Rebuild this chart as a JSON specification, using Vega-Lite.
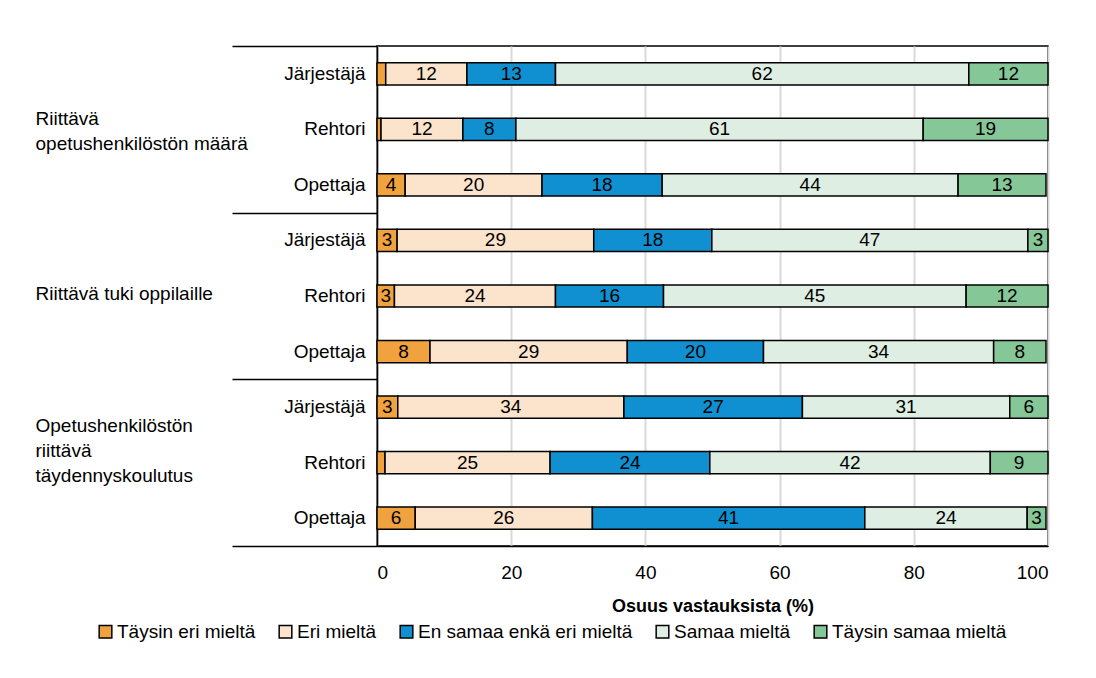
{
  "$schema": "https://vega.github.io/schema/vega-lite/v6.json",
  "width": 671,
  "height": 500,
  "padding": {"left": 35, "top": 37, "right": 30, "bottom": 10},
  "background": "white",
  "config": {
    "font": "Liberation Sans",
    "view": {"stroke": "black", "strokeWidth": 1.5},
    "axis": {"labelColor": "black", "labelFont": "Liberation Sans", "labelFontSize": 19, "titleColor": "black", "titleFont": "Liberation Sans"},
    "legend": {"labelFont": "Liberation Sans"}
  },
  "data": {
    "values": [
      {"ryhma": "Riittävä opetushenkilöstön määrä", "rivi": "Riittävä opetushenkilöstön määrä|Järjestäjä", "vastaus": "Täysin eri mieltä", "k": 1, "v": 1.3},
      {"ryhma": "Riittävä opetushenkilöstön määrä", "rivi": "Riittävä opetushenkilöstön määrä|Järjestäjä", "vastaus": "Eri mieltä", "k": 2, "v": 12.1},
      {"ryhma": "Riittävä opetushenkilöstön määrä", "rivi": "Riittävä opetushenkilöstön määrä|Järjestäjä", "vastaus": "En samaa enkä eri mieltä", "k": 3, "v": 13.2},
      {"ryhma": "Riittävä opetushenkilöstön määrä", "rivi": "Riittävä opetushenkilöstön määrä|Järjestäjä", "vastaus": "Samaa mieltä", "k": 4, "v": 61.6},
      {"ryhma": "Riittävä opetushenkilöstön määrä", "rivi": "Riittävä opetushenkilöstön määrä|Järjestäjä", "vastaus": "Täysin samaa mieltä", "k": 5, "v": 11.8},
      {"ryhma": "Riittävä opetushenkilöstön määrä", "rivi": "Riittävä opetushenkilöstön määrä|Rehtori", "vastaus": "Täysin eri mieltä", "k": 1, "v": 0.6},
      {"ryhma": "Riittävä opetushenkilöstön määrä", "rivi": "Riittävä opetushenkilöstön määrä|Rehtori", "vastaus": "Eri mieltä", "k": 2, "v": 12.2},
      {"ryhma": "Riittävä opetushenkilöstön määrä", "rivi": "Riittävä opetushenkilöstön määrä|Rehtori", "vastaus": "En samaa enkä eri mieltä", "k": 3, "v": 7.9},
      {"ryhma": "Riittävä opetushenkilöstön määrä", "rivi": "Riittävä opetushenkilöstön määrä|Rehtori", "vastaus": "Samaa mieltä", "k": 4, "v": 60.7},
      {"ryhma": "Riittävä opetushenkilöstön määrä", "rivi": "Riittävä opetushenkilöstön määrä|Rehtori", "vastaus": "Täysin samaa mieltä", "k": 5, "v": 18.6},
      {"ryhma": "Riittävä opetushenkilöstön määrä", "rivi": "Riittävä opetushenkilöstön määrä|Opettaja", "vastaus": "Täysin eri mieltä", "k": 1, "v": 4.2},
      {"ryhma": "Riittävä opetushenkilöstön määrä", "rivi": "Riittävä opetushenkilöstön määrä|Opettaja", "vastaus": "Eri mieltä", "k": 2, "v": 20.4},
      {"ryhma": "Riittävä opetushenkilöstön määrä", "rivi": "Riittävä opetushenkilöstön määrä|Opettaja", "vastaus": "En samaa enkä eri mieltä", "k": 3, "v": 17.9},
      {"ryhma": "Riittävä opetushenkilöstön määrä", "rivi": "Riittävä opetushenkilöstön määrä|Opettaja", "vastaus": "Samaa mieltä", "k": 4, "v": 44.1},
      {"ryhma": "Riittävä opetushenkilöstön määrä", "rivi": "Riittävä opetushenkilöstön määrä|Opettaja", "vastaus": "Täysin samaa mieltä", "k": 5, "v": 13.1},
      {"ryhma": "Riittävä tuki oppilaille", "rivi": "Riittävä tuki oppilaille|Järjestäjä", "vastaus": "Täysin eri mieltä", "k": 1, "v": 3.0},
      {"ryhma": "Riittävä tuki oppilaille", "rivi": "Riittävä tuki oppilaille|Järjestäjä", "vastaus": "Eri mieltä", "k": 2, "v": 29.3},
      {"ryhma": "Riittävä tuki oppilaille", "rivi": "Riittävä tuki oppilaille|Järjestäjä", "vastaus": "En samaa enkä eri mieltä", "k": 3, "v": 17.6},
      {"ryhma": "Riittävä tuki oppilaille", "rivi": "Riittävä tuki oppilaille|Järjestäjä", "vastaus": "Samaa mieltä", "k": 4, "v": 47.1},
      {"ryhma": "Riittävä tuki oppilaille", "rivi": "Riittävä tuki oppilaille|Järjestäjä", "vastaus": "Täysin samaa mieltä", "k": 5, "v": 3.0},
      {"ryhma": "Riittävä tuki oppilaille", "rivi": "Riittävä tuki oppilaille|Rehtori", "vastaus": "Täysin eri mieltä", "k": 1, "v": 2.6},
      {"ryhma": "Riittävä tuki oppilaille", "rivi": "Riittävä tuki oppilaille|Rehtori", "vastaus": "Eri mieltä", "k": 2, "v": 24.0},
      {"ryhma": "Riittävä tuki oppilaille", "rivi": "Riittävä tuki oppilaille|Rehtori", "vastaus": "En samaa enkä eri mieltä", "k": 3, "v": 16.1},
      {"ryhma": "Riittävä tuki oppilaille", "rivi": "Riittävä tuki oppilaille|Rehtori", "vastaus": "Samaa mieltä", "k": 4, "v": 45.1},
      {"ryhma": "Riittävä tuki oppilaille", "rivi": "Riittävä tuki oppilaille|Rehtori", "vastaus": "Täysin samaa mieltä", "k": 5, "v": 12.2},
      {"ryhma": "Riittävä tuki oppilaille", "rivi": "Riittävä tuki oppilaille|Opettaja", "vastaus": "Täysin eri mieltä", "k": 1, "v": 7.9},
      {"ryhma": "Riittävä tuki oppilaille", "rivi": "Riittävä tuki oppilaille|Opettaja", "vastaus": "Eri mieltä", "k": 2, "v": 29.4},
      {"ryhma": "Riittävä tuki oppilaille", "rivi": "Riittävä tuki oppilaille|Opettaja", "vastaus": "En samaa enkä eri mieltä", "k": 3, "v": 20.3},
      {"ryhma": "Riittävä tuki oppilaille", "rivi": "Riittävä tuki oppilaille|Opettaja", "vastaus": "Samaa mieltä", "k": 4, "v": 34.3},
      {"ryhma": "Riittävä tuki oppilaille", "rivi": "Riittävä tuki oppilaille|Opettaja", "vastaus": "Täysin samaa mieltä", "k": 5, "v": 7.8},
      {"ryhma": "Opetushenkilöstön riittävä täydennyskoulutus", "rivi": "Opetushenkilöstön riittävä täydennyskoulutus|Järjestäjä", "vastaus": "Täysin eri mieltä", "k": 1, "v": 3.1},
      {"ryhma": "Opetushenkilöstön riittävä täydennyskoulutus", "rivi": "Opetushenkilöstön riittävä täydennyskoulutus|Järjestäjä", "vastaus": "Eri mieltä", "k": 2, "v": 33.7},
      {"ryhma": "Opetushenkilöstön riittävä täydennyskoulutus", "rivi": "Opetushenkilöstön riittävä täydennyskoulutus|Järjestäjä", "vastaus": "En samaa enkä eri mieltä", "k": 3, "v": 26.6},
      {"ryhma": "Opetushenkilöstön riittävä täydennyskoulutus", "rivi": "Opetushenkilöstön riittävä täydennyskoulutus|Järjestäjä", "vastaus": "Samaa mieltä", "k": 4, "v": 30.9},
      {"ryhma": "Opetushenkilöstön riittävä täydennyskoulutus", "rivi": "Opetushenkilöstön riittävä täydennyskoulutus|Järjestäjä", "vastaus": "Täysin samaa mieltä", "k": 5, "v": 5.7},
      {"ryhma": "Opetushenkilöstön riittävä täydennyskoulutus", "rivi": "Opetushenkilöstön riittävä täydennyskoulutus|Rehtori", "vastaus": "Täysin eri mieltä", "k": 1, "v": 1.2},
      {"ryhma": "Opetushenkilöstön riittävä täydennyskoulutus", "rivi": "Opetushenkilöstön riittävä täydennyskoulutus|Rehtori", "vastaus": "Eri mieltä", "k": 2, "v": 24.6},
      {"ryhma": "Opetushenkilöstön riittävä täydennyskoulutus", "rivi": "Opetushenkilöstön riittävä täydennyskoulutus|Rehtori", "vastaus": "En samaa enkä eri mieltä", "k": 3, "v": 23.8},
      {"ryhma": "Opetushenkilöstön riittävä täydennyskoulutus", "rivi": "Opetushenkilöstön riittävä täydennyskoulutus|Rehtori", "vastaus": "Samaa mieltä", "k": 4, "v": 41.8},
      {"ryhma": "Opetushenkilöstön riittävä täydennyskoulutus", "rivi": "Opetushenkilöstön riittävä täydennyskoulutus|Rehtori", "vastaus": "Täysin samaa mieltä", "k": 5, "v": 8.6},
      {"ryhma": "Opetushenkilöstön riittävä täydennyskoulutus", "rivi": "Opetushenkilöstön riittävä täydennyskoulutus|Opettaja", "vastaus": "Täysin eri mieltä", "k": 1, "v": 5.7},
      {"ryhma": "Opetushenkilöstön riittävä täydennyskoulutus", "rivi": "Opetushenkilöstön riittävä täydennyskoulutus|Opettaja", "vastaus": "Eri mieltä", "k": 2, "v": 26.4},
      {"ryhma": "Opetushenkilöstön riittävä täydennyskoulutus", "rivi": "Opetushenkilöstön riittävä täydennyskoulutus|Opettaja", "vastaus": "En samaa enkä eri mieltä", "k": 3, "v": 40.6},
      {"ryhma": "Opetushenkilöstön riittävä täydennyskoulutus", "rivi": "Opetushenkilöstön riittävä täydennyskoulutus|Opettaja", "vastaus": "Samaa mieltä", "k": 4, "v": 24.2},
      {"ryhma": "Opetushenkilöstön riittävä täydennyskoulutus", "rivi": "Opetushenkilöstön riittävä täydennyskoulutus|Opettaja", "vastaus": "Täysin samaa mieltä", "k": 5, "v": 2.8}
    ]
  },
  "layer": [
    {
      "layer": [
        {
          "mark": {"type": "bar", "height": {"band": 0.4}, "stroke": "black", "strokeWidth": 1.5},
          "encoding": {
            "y": {
              "field": "rivi", "type": "nominal", "sort": null,
              "scale": {"paddingInner": 0, "paddingOuter": 0},
              "axis": {"title": null, "orient": "left", "labelExpr": "split(datum.label, '|')[1]", "ticks": false, "labelPadding": 12, "domain": true, "domainColor": "black", "domainWidth": 1.5, "grid": false, "labelLimit": 300}
            },
            "x": {
              "field": "v", "type": "quantitative", "stack": "zero",
              "scale": {"domain": [0, 100], "nice": false},
              "axis": {"values": [0, 20, 40, 60, 80, 100], "title": "Osuus vastauksista (%)", "titleFontWeight": "bold", "titleFontSize": 18, "titlePadding": 15, "labelPadding": 17, "grid": true, "gridColor": "#d9d9d9", "gridWidth": 2, "ticks": false, "domain": true, "domainColor": "black", "domainWidth": 1.5}
            },
            "color": {
              "field": "vastaus", "type": "nominal",
              "scale": {
                "domain": ["Täysin eri mieltä", "Eri mieltä", "En samaa enkä eri mieltä", "Samaa mieltä", "Täysin samaa mieltä"],
                "range": ["#F0A23E", "#FCE4CC", "#1090D0", "#DEEEE2", "#86C798"]
              },
              "legend": {"title": null, "orient": "none", "legendX": -281, "legendY": 576, "padding": 0, "direction": "horizontal", "symbolType": "square", "symbolSize": 160, "symbolStrokeColor": "black", "symbolStrokeWidth": 1.5, "symbolOpacity": 1, "labelFontSize": 19, "labelColor": "black", "columnPadding": 20, "labelOffset": 2, "labelLimit": 400}
            },
            "order": {"field": "k", "type": "quantitative"}
          }
        },
        {
          "mark": {"type": "text", "fontSize": 19, "color": "black", "baseline": "middle", "align": "center"},
          "encoding": {
            "y": {"field": "rivi", "type": "nominal", "sort": null},
            "x": {"field": "v", "type": "quantitative", "stack": "zero", "bandPosition": 0.5},
            "detail": {"field": "vastaus"},
            "order": {"field": "k", "type": "quantitative"},
            "text": {"condition": {"test": "datum.v < 2", "value": ""}, "field": "v", "type": "quantitative", "format": ".0f"}
          }
        }
      ]
    },
    {
      "mark": {"type": "rule", "opacity": 0},
      "encoding": {
        "y": {
          "field": "ryhma", "type": "nominal", "sort": null,
          "scale": {"paddingInner": 0, "paddingOuter": 0},
          "axis": {
            "title": null, "orient": "left", "domain": false, "grid": false,
            "tickBand": "extent", "ticks": true, "tickSize": 145, "tickColor": "black", "tickWidth": 1.5,
            "labelPadding": 197, "labelAlign": "left", "labelBaseline": "middle", "labelLimit": 400, "labelLineHeight": 25,
            "labelOffset": {"condition": [
              {"test": "datum.value == 'Riittävä opetushenkilöstön määrä'", "value": -11},
              {"test": "datum.value == 'Opetushenkilöstön riittävä täydennyskoulutus'", "value": -37}
            ], "value": -3},
            "labelExpr": "datum.label == 'Riittävä opetushenkilöstön määrä' ? ['Riittävä', 'opetushenkilöstön määrä'] : datum.label == 'Opetushenkilöstön riittävä täydennyskoulutus' ? ['Opetushenkilöstön', 'riittävä', 'täydennyskoulutus'] : datum.label"
          }
        }
      }
    }
  ],
  "resolve": {"scale": {"y": "independent"}}
}
